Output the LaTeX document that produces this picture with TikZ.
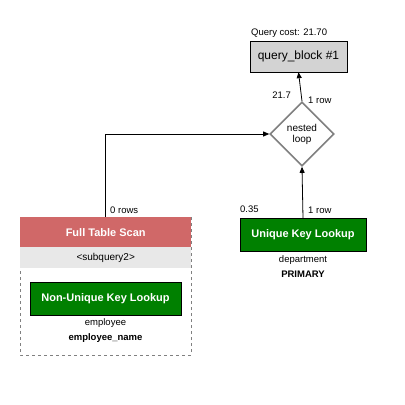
\documentclass[tikz,border=0pt]{standalone}
\usepackage{fontspec}
\setmainfont{Liberation Sans}
\usetikzlibrary{shapes.geometric,arrows.meta}

\definecolor{scanred}{RGB}{208,104,104}
\definecolor{subgray}{RGB}{232,232,232}
\definecolor{lookgreen}{RGB}{0,128,0}
\definecolor{blockgray}{RGB}{211,211,211}

\tikzset{
  lbl/.style={inner sep=0pt, font=\fontsize{9.5}{11}\selectfont},
  lookup/.style={draw=black, fill=lookgreen, text=white, inner sep=0pt,
    font=\bfseries\fontsize{11}{13}\selectfont},
  flow/.style={-{Triangle[length=6pt,width=5pt]}, line width=0.8pt}
}

\begin{document}
\begin{tikzpicture}[x=1pt,y=-1pt]
\useasboundingbox[fill=white] (0,0) rectangle (405,405);
% query block
\node[lbl, anchor=west] (cost) at (251,33) {Query cost: 21.70};
\node[draw=black, fill=blockgray, minimum width=97pt, minimum height=31pt, inner sep=0pt,
  font=\fontsize{12}{14}\selectfont] (qb) at (298.5,56.5) {query\_block \#1};
% nested loop
\node[diamond, draw=gray, line width=1.6pt, minimum width=64pt, minimum height=64pt,
  inner sep=0pt, align=center, font=\fontsize{10}{11}\selectfont] (nl) at (302,134) {nested\\loop};
\draw[flow] (nl.north) -- (qb.south);
\node[lbl, anchor=east] (c1) at (291,95) {21.7};
\node[lbl, anchor=west] (r1) at (308,100) {1 row};
% full table scan group
\draw[gray, dashed] (20,217) rectangle (191,355);
\node[fill=scanred, text=white, minimum width=171pt, minimum height=30pt, inner sep=0pt,
  anchor=north west, font=\bfseries\fontsize{11}{13}\selectfont] (fts) at (20,217) {Full Table Scan};
\node[fill=subgray, minimum width=171pt, minimum height=21pt, inner sep=0pt,
  anchor=north west, font=\fontsize{10}{12}\selectfont] (sub) at (20,247) {<subquery2>};
\node[lookup, minimum width=151pt, minimum height=33pt] (nukl) at (105.5,298.5) {Non-Unique Key Lookup};
\node[lbl] (emp) at (105.5,323) {employee};
\node[lbl, font=\bfseries\fontsize{9.5}{11}\selectfont] (empn) at (105.5,338) {employee\_name};
\draw[flow] (fts.north) |- (nl.west);
\node[lbl, anchor=west] (r0) at (110,210) {0 rows};
% unique key lookup
\node[lookup, minimum width=126pt, minimum height=33pt] (ukl) at (303,234.5) {Unique Key Lookup};
\node[lbl] (dep) at (303,260) {department};
\node[lbl, font=\bfseries\fontsize{9.5}{11}\selectfont] (pri) at (303,274) {PRIMARY};
\draw[flow] (ukl.north) -- (nl.south);
\node[lbl, anchor=west] (c2) at (240,209) {0.35};
\node[lbl, anchor=west] (r2) at (308,210) {1 row};
\end{tikzpicture}
\end{document}
